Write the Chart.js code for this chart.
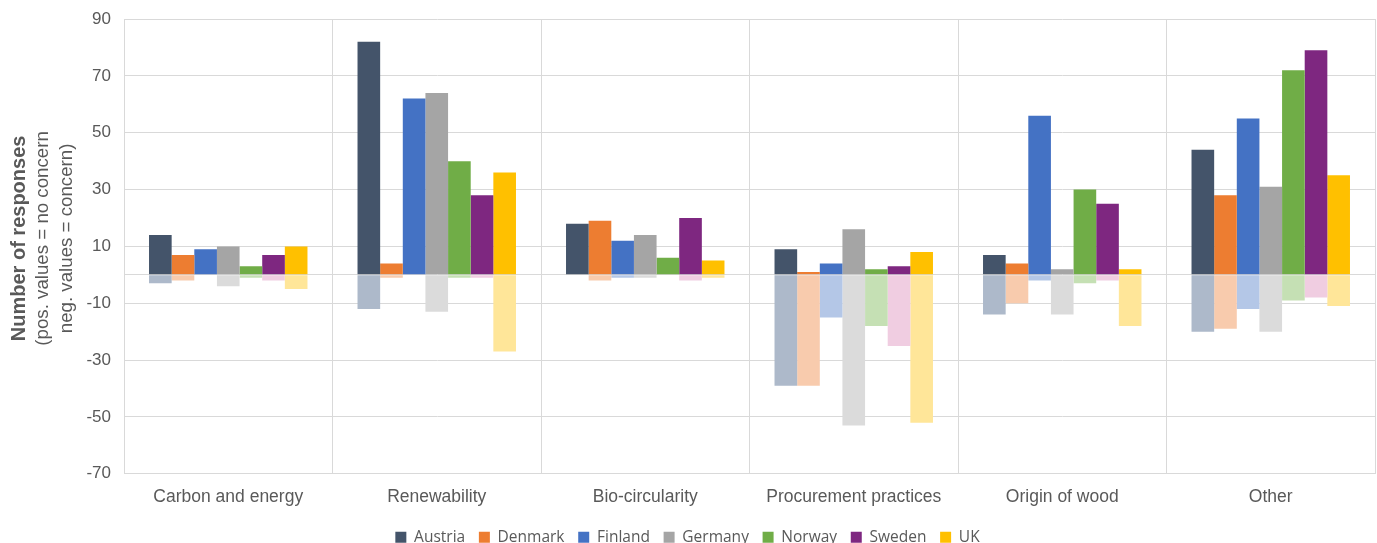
<!DOCTYPE html>
<html>
<head>
<meta charset="utf-8">
<script src="https://cdn.jsdelivr.net/npm/chart.js@4.4.1/dist/chart.umd.min.js"></script>
<style>
  html, body { margin: 0; padding: 0; background: #ffffff; }
  #wrap { width: 1377px; height: 543px; position: relative; }
</style>
</head>
<body>
<div id="wrap"><canvas id="chart" width="1377" height="543"></canvas></div>
<script>
// Topics asked about in the survey
const categories = ['Carbon and energy', 'Renewability', 'Bio-circularity', 'Procurement practices', 'Origin of wood', 'Other'];
const countries = ['Austria', 'Denmark', 'Finland', 'Germany', 'Norway', 'Sweden', 'UK'];

// Responses per topic: positive = no concern, negative = concern
const austriaNoConcern = [14, 82, 18, 9, 7, 44];
const austriaConcern   = [-3, -12, 0, -39, -14, -20];
const denmarkNoConcern = [7, 4, 19, 1, 4, 28];
const denmarkConcern   = [-2, -1, -2, -39, -10, -19];
const finlandNoConcern = [9, 62, 12, 4, 56, 55];
const finlandConcern   = [0, 0, -1, -15, -2, -12];
const germanyNoConcern = [10, 64, 14, 16, 2, 31];
const germanyConcern   = [-4, -13, -1, -53, -14, -20];
const norwayNoConcern  = [3, 40, 6, 2, 30, 72];
const norwayConcern    = [-1, -1, 0, -18, -3, -9];
const swedenNoConcern  = [7, 28, 20, 3, 25, 79];
const swedenConcern    = [-2, -1, -2, -25, -2, -8];
const ukNoConcern      = [10, 36, 5, 8, 2, 35];
const ukConcern        = [-5, -27, -1, -52, -18, -11];

// Y axis range and tick step
const yMin = -70;
const yMax = 90;
const yStep = 20;

const noConcernSeries = [austriaNoConcern, denmarkNoConcern, finlandNoConcern, germanyNoConcern, norwayNoConcern, swedenNoConcern, ukNoConcern];
const concernSeries = [austriaConcern, denmarkConcern, finlandConcern, germanyConcern, norwayConcern, swedenConcern, ukConcern];

const solidColors = ['#44546A', '#ED7D31', '#4472C4', '#A5A5A5', '#70AD47', '#7E2780', '#FFC000'];
const paleColors  = ['#ADB9CA', '#F8CBAD', '#B4C7E7', '#DBDBDB', '#C5E0B4', '#F0CDE1', '#FFE699'];

const datasets = [];
countries.forEach((name, i) => {
  datasets.push({
    label: name,
    data: noConcernSeries[i],
    backgroundColor: solidColors[i],
    stack: name,
    isConcern: false
  });
  datasets.push({
    label: name + ' (concern)',
    data: concernSeries[i],
    backgroundColor: paleColors[i],
    stack: name,
    isConcern: true
  });
});

const axisText = '#595959';
const gridColor = '#D9D9D9';

// Rotated y-axis title: bold first line, two regular lines below it
const yTitlePlugin = {
  id: 'yTitle',
  afterDraw(chart) {
    const ctx = chart.ctx;
    const area = chart.chartArea;
    const cy = (area.top + area.bottom) / 2 - 8;
    const lines = [
      { text: 'Number of responses', font: 'bold 20px "Liberation Sans", Arial, sans-serif', x: 19 },
      { text: '(pos. values = no concern', font: '18.7px "Liberation Sans", Arial, sans-serif', x: 43 },
      { text: 'neg. values = concern)', font: '18.7px "Liberation Sans", Arial, sans-serif', x: 67 }
    ];
    ctx.save();
    ctx.fillStyle = axisText;
    ctx.textAlign = 'center';
    ctx.textBaseline = 'middle';
    lines.forEach(l => {
      ctx.save();
      ctx.translate(l.x, cy);
      ctx.rotate(-Math.PI / 2);
      ctx.font = l.font;
      ctx.fillText(l.text, 0, 0);
      ctx.restore();
    });
    ctx.restore();
  }
};

new Chart(document.getElementById('chart'), {
  type: 'bar',
  data: { labels: categories, datasets: datasets },
  plugins: [yTitlePlugin],
  options: {
    responsive: false,
    animation: false,
    layout: { padding: { top: 19, right: 2, left: 0, bottom: -12 } },
    datasets: {
      bar: { barPercentage: 1.0, categoryPercentage: 0.76, borderWidth: 0 }
    },
    scales: {
      x: {
        stacked: true,
        grid: { color: gridColor, lineWidth: 1, drawTicks: false, offset: true },
        border: { color: gridColor },
        ticks: {
          color: axisText,
          padding: 13,
          font: { family: '"Liberation Sans", Arial, sans-serif', size: 17.5 },
          maxRotation: 0
        },
        afterFit(scale) { scale.height = 42; }
      },
      y: {
        stacked: true,
        min: yMin,
        max: yMax,
        grid: { color: gridColor, lineWidth: 1, drawTicks: false },
        border: { color: gridColor },
        ticks: {
          stepSize: yStep,
          color: axisText,
          padding: 13,
          font: { family: '"Liberation Sans", Arial, sans-serif', size: 17 },
          callback: (v) => (v === 0 ? '' : v)
        },
        // keep a grid line at zero alongside the labelled ticks
        afterBuildTicks(scale) {
          if (!scale.ticks.some(t => t.value === 0)) {
            scale.ticks.push({ value: 0 });
            scale.ticks.sort((a, b) => a.value - b.value);
          }
        },
        afterFit(scale) {
          scale.width = 124;
          scale.paddingTop = 4;
          scale.paddingBottom = 4;
        }
      }
    },
    plugins: {
      legend: {
        position: 'bottom',
        labels: {
          boxWidth: 11,
          boxHeight: 11,
          padding: 13.7,
          color: axisText,
          font: { family: '"Open Sans", sans-serif', size: 15.5 },
          filter: (item, data) => !data.datasets[item.datasetIndex].isConcern
        }
      },
      tooltip: { enabled: false }
    }
  }
});
</script>
</body>
</html>
